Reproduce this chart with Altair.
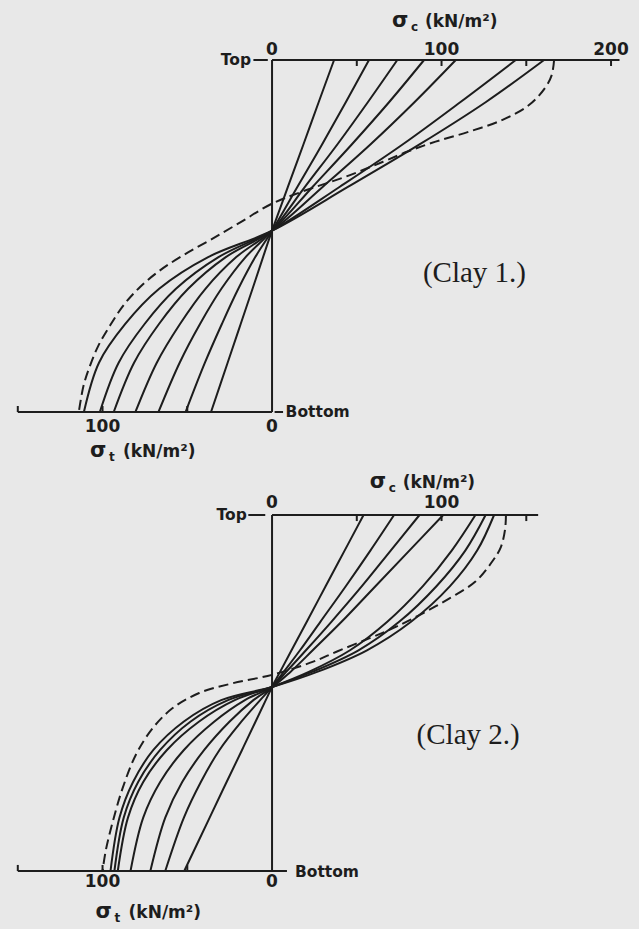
import altair as alt
import pandas as pd

INK = "#1d1d1d"
PAPER = "#e8e8e8"
LABEL_FONT = "DejaVu Sans"
NOTE_FONT = "Liberation Serif"

# Stress across the specimen depth: depth 0 = top face, 1 = bottom face.
# Stress in kN/m2, compression (sigma_c) positive, tension (sigma_t) negative.

# ---------------- Clay 1 ----------------
clay1_upper_depth = [0.0, 0.12, 0.24, 0.36, 0.485]
clay1_upper = [
    [36.6, 27.5, 18.5, 9.4, 0.0],
    [57.2, 43.5, 29.5, 15.0, 0.0],
    [73.9, 56.5, 38.5, 19.5, 0.0],
    [89.7, 69.0, 47.0, 24.0, 0.0],
    [108.4, 84.0, 58.0, 30.0, 0.0],
    [143.8, 111.0, 77.0, 40.0, 0.0],
    [160.5, 126.0, 87.0, 45.0, 0.0],
]
clay1_lower_depth = [0.485, 0.56, 0.65, 0.75, 0.86, 1.0]
clay1_lower = [
    [0.0, -5.3, -11.5, -18.5, -26.2, -36.0],
    [0.0, -9.9, -19.9, -29.6, -39.6, -51.0],
    [0.0, -15.6, -29.9, -42.5, -54.5, -67.0],
    [0.0, -21.1, -39.3, -54.3, -68.0, -80.6],
    [0.0, -27.3, -49.5, -66.7, -81.4, -93.4],
    [0.0, -31.6, -56.7, -75.2, -90.5, -101.6],
    [0.0, -37.7, -66.6, -86.6, -102.1, -111.0],
]
clay1_fail_depth = [0.0, 0.043, 0.08, 0.128, 0.17, 0.204, 0.232, 0.26, 0.289,
                    0.327, 0.374, 0.408, 0.462, 0.511, 0.554, 0.597, 0.644,
                    0.696, 0.753, 0.81, 0.866, 0.923, 1.0]
clay1_fail = [166.4, 165.0, 161.0, 151.6, 136.0, 116.0, 96.5, 80.0, 65.5,
              46.0, 17.7, 0.0, -19.0, -36.4, -52.2, -65.9, -77.7,
              -87.5, -95.4, -102.3, -107.2, -111.1, -114.0]

# ---------------- Clay 2 ----------------
clay2_upper_depth = [0.0, 0.1, 0.2, 0.3, 0.38, 0.44, 0.483]
clay2_upper = [
    [54.0, 42.8, 31.6, 20.5, 11.5, 4.8, 0.0],
    [72.0, 58.0, 43.5, 28.5, 16.5, 7.0, 0.0],
    [87.0, 70.0, 53.0, 35.0, 20.0, 8.5, 0.0],
    [101.0, 81.0, 61.0, 41.0, 24.0, 11.0, 0.0],
    [120.0, 106.0, 89.0, 68.0, 46.0, 22.0, 0.0],
    [126.0, 114.0, 97.0, 75.0, 51.0, 24.0, 0.0],
    [131.0, 121.0, 105.0, 82.0, 56.0, 27.0, 0.0],
]
clay2_lower_depth = [0.483, 0.52, 0.58, 0.66, 0.75, 0.85, 1.0]
clay2_lower = [
    [0.0, -3.7, -9.7, -17.7, -26.8, -36.8, -51.8],
    [0.0, -7.0, -18.0, -31.0, -42.0, -52.0, -63.0],
    [0.0, -11.0, -25.0, -40.0, -53.0, -63.0, -71.8],
    [0.0, -16.0, -34.0, -52.0, -66.0, -76.0, -83.5],
    [0.0, -22.0, -43.0, -62.0, -76.0, -85.0, -91.0],
    [0.0, -26.0, -48.0, -66.0, -79.0, -87.5, -93.0],
    [0.0, -30.0, -52.0, -70.0, -82.0, -90.0, -95.3],
]
clay2_fail_depth = [0.0, 0.04, 0.09, 0.13, 0.187, 0.234, 0.281, 0.318, 0.346,
                    0.384, 0.412, 0.449, 0.473, 0.5, 0.543, 0.6, 0.674, 0.768,
                    0.862, 0.94, 1.0]
clay2_fail = [138.0, 137.5, 135.0, 130.0, 120.0, 104.7, 87.0, 71.4, 57.6,
              38.0, 24.3, 0.0, -23.5, -43.0, -58.8, -70.6, -80.4, -88.2,
              -94.0, -98.0, -100.0]

# ---------------- axes (drawn as rules) ----------------
clay1_top_axis_end = 205
clay2_top_axis_end = 157
clay1_top_ticks = [50, 100, 150, 200]
clay2_top_ticks = [50, 100, 150]
bottom_ticks = [-150, -100, -50]
clay1_top_labels = [0, 100, 200]
clay2_top_labels = [0, 100]
bottom_labels = [-100, 0]

X_DOMAIN = [-160.5, 216.5]
TICK = 0.017


def curve_frame(upper_depth, upper, lower_depth, lower):
    rows = []
    for k, (up, lo) in enumerate(zip(upper, lower)):
        depths = list(upper_depth) + list(lower_depth[1:])
        stresses = list(up) + list(lo[1:])
        for i, (d, s) in enumerate(zip(depths, stresses)):
            rows.append({"curve": k, "i": i, "depth": d, "stress": s})
    return pd.DataFrame(rows)


def fail_frame(depth, stress):
    return pd.DataFrame({"curve": 0, "i": list(range(len(depth))),
                         "depth": depth, "stress": stress})


def rule_frame(top_end, top_ticks, bottom_end, top_dash, bottom_dash):
    segs = [(0, 0, 0, 1), (0, 0, top_end, 0), (-150, 1, bottom_end, 1),
            (top_dash[0], 0, top_dash[1], 0)]
    if bottom_dash:
        segs.append((bottom_dash[0], 1, bottom_dash[1], 1))
    segs += [(t, 0, t, TICK) for t in top_ticks]
    segs += [(t, 1, t, 1 - TICK) for t in bottom_ticks]
    return pd.DataFrame(segs, columns=["x0", "y0", "x1", "y1"])


def panel(curves, failure, rules, tick_text, words, titles, note, y_domain, height):
    xs = alt.Scale(domain=X_DOMAIN, nice=False, zero=False)
    ys = alt.Scale(domain=y_domain, reverse=True, nice=False, zero=False)

    axes = alt.Chart(rules).mark_rule(color=INK, strokeWidth=2).encode(
        x=alt.X("x0:Q", scale=xs, axis=None), x2="x1:Q",
        y=alt.Y("y0:Q", scale=ys, axis=None), y2="y1:Q")

    solid = alt.Chart(curves).mark_line(
        color=INK, strokeWidth=2, interpolate="catmull-rom", strokeCap="round"
    ).encode(
        x=alt.X("stress:Q", scale=xs, axis=None),
        y=alt.Y("depth:Q", scale=ys, axis=None),
        detail="curve:N", order="i:Q")

    dashed = alt.Chart(failure).mark_line(
        color=INK, strokeWidth=2, interpolate="catmull-rom", strokeDash=[10, 5]
    ).encode(
        x=alt.X("stress:Q", scale=xs, axis=None),
        y=alt.Y("depth:Q", scale=ys, axis=None),
        order="i:Q")

    ticks = alt.Chart(tick_text).mark_text(
        font=LABEL_FONT, fontSize=17, fontWeight="bold", color=INK,
        align="center", baseline="middle"
    ).encode(x=alt.X("x:Q", scale=xs, axis=None),
             y=alt.Y("y:Q", scale=ys, axis=None), text="label:N")

    word_layers = []
    for align in ["left", "right"]:
        sub = words[words["align"] == align]
        word_layers.append(alt.Chart(sub).mark_text(
            font=LABEL_FONT, fontSize=15.5, fontWeight="bold", color=INK,
            align=align, baseline="middle"
        ).encode(x=alt.X("x:Q", scale=xs, axis=None),
                 y=alt.Y("y:Q", scale=ys, axis=None), text="label:N"))

    # axis titles: sigma, its subscript and the unit, set side by side
    sym = alt.Chart(titles).mark_text(
        font=LABEL_FONT, fontSize=21, fontWeight="bold", color=INK,
        align="left", baseline="middle", dy=-1
    ).encode(x=alt.X("x:Q", scale=xs, axis=None),
             y=alt.Y("y:Q", scale=ys, axis=None), text="symbol:N")
    sub = alt.Chart(titles).mark_text(
        font=LABEL_FONT, fontSize=12, fontWeight="bold", color=INK,
        align="left", baseline="middle", dx=19, dy=5
    ).encode(x=alt.X("x:Q", scale=xs, axis=None),
             y=alt.Y("y:Q", scale=ys, axis=None), text="sub:N")
    unit = alt.Chart(titles).mark_text(
        font=LABEL_FONT, fontSize=17, fontWeight="bold", color=INK,
        align="left", baseline="middle", dx=33
    ).encode(x=alt.X("x:Q", scale=xs, axis=None),
             y=alt.Y("y:Q", scale=ys, axis=None), text="unit:N")

    clay = alt.Chart(note).mark_text(
        font=NOTE_FONT, fontSize=29, color=INK, align="left", baseline="middle"
    ).encode(x=alt.X("x:Q", scale=xs, axis=None),
             y=alt.Y("y:Q", scale=ys, axis=None), text="label:N")

    return alt.layer(axes, solid, dashed, ticks, *word_layers, sym, sub, unit,
                     clay).properties(width=639, height=height)


UNIT = "(kN/m²)"

# ---------------- panel: Clay 1 ----------------
p1 = panel(
    curve_frame(clay1_upper_depth, clay1_upper, clay1_lower_depth, clay1_lower),
    fail_frame(clay1_fail_depth, clay1_fail),
    rule_frame(clay1_top_axis_end, clay1_top_ticks, 0, (-11, -2.5), (1.5, 6.5)),
    pd.DataFrame({
        "x": clay1_top_labels + bottom_labels,
        "y": [-0.028] * len(clay1_top_labels) + [1.044] * len(bottom_labels),
        "label": [str(abs(v)) for v in clay1_top_labels + bottom_labels]}),
    pd.DataFrame({"x": [-12.4, 8.0], "y": [0.0, 1.0],
                  "label": ["Top", "Bottom"], "align": ["right", "left"]}),
    pd.DataFrame({"x": [70.8, -107.4], "y": [-0.108, 1.114],
                  "symbol": ["σ", "σ"], "sub": ["c", "t"], "unit": [UNIT, UNIT]}),
    pd.DataFrame({"x": [89.0], "y": [0.6065], "label": ["(Clay 1.)"]}),
    [-0.17045, 1.1506], 465)

# ---------------- panel: Clay 2 ----------------
p2 = panel(
    curve_frame(clay2_upper_depth, clay2_upper, clay2_lower_depth, clay2_lower),
    fail_frame(clay2_fail_depth, clay2_fail),
    rule_frame(clay2_top_axis_end, clay2_top_ticks, 8.8, (-14, -4), None),
    pd.DataFrame({
        "x": clay2_top_labels + bottom_labels,
        "y": [-0.035] * len(clay2_top_labels) + [1.0295] * len(bottom_labels),
        "label": [str(abs(v)) for v in clay2_top_labels + bottom_labels]}),
    pd.DataFrame({"x": [-14.9, 13.5], "y": [0.0, 1.003],
                  "label": ["Top", "Bottom"], "align": ["right", "left"]}),
    pd.DataFrame({"x": [57.6, -104.1], "y": [-0.0885, 1.1166],
                  "symbol": ["σ", "σ"], "sub": ["c", "t"], "unit": [UNIT, UNIT]}),
    pd.DataFrame({"x": [85.3], "y": [0.619], "label": ["(Clay 2.)"]}),
    [-0.14045, 1.16292], 464)

chart = alt.vconcat(p1, p2, spacing=0).properties(padding=0).configure(
    background=PAPER).configure_view(stroke=None)

chart.save("out.html", embed_options={"renderer": "svg", "actions": False})
